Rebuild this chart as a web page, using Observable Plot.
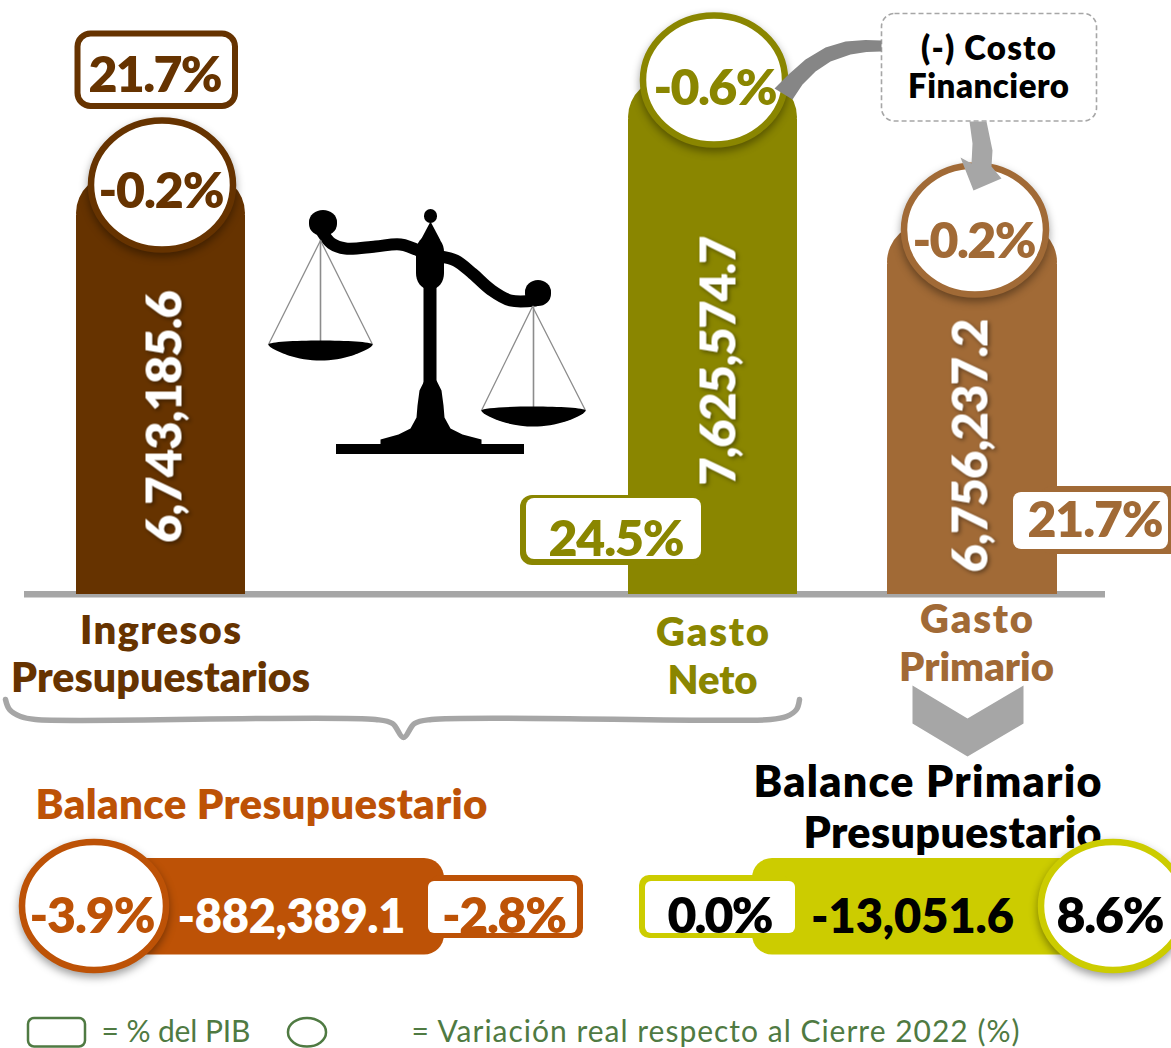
<!DOCTYPE html>
<html lang="es">
<head>
<meta charset="utf-8">
<title>Balance presupuestario</title>
<script src="https://cdn.jsdelivr.net/npm/d3@7"></script>
<script src="https://cdn.jsdelivr.net/npm/@observablehq/plot@0.6"></script>
<style>
  html, body { margin: 0; padding: 0; background: #fff; }
  svg { display: block; }
  svg text { font-family: Lato, "Open Sans", sans-serif; }
  [aria-label="badge"] { filter: drop-shadow(0 4px 4px rgba(0,0,0,.38)); }
  .value-shadow { filter: drop-shadow(-2px 2px 2px rgba(0,0,0,.4)); }
</style>
</head>
<body>
<div id="chart"></div>
<script>
// ---- Values ----
const categories = ["Ingresos Presupuestarios", "Gasto Neto", "Gasto Primario"];
const amounts = ["6,743,185.6", "7,625,574.7", "6,756,237.2"];
const pctPib = ["21.7%", "24.5%", "21.7%"];
const pctReal = ["-0.2%", "-0.6%", "-0.2%"];
const barHeights = [421, 517, 372];       // drawn heights, as in the picture (not proportional)

const balanceNames = ["Balance Presupuestario", "Balance Primario Presupuestario"];
const balanceAmounts = ["-882,389.1", "-13,051.6"];
const balancePib = ["-2.8%", "0.0%"];
const balanceReal = ["-3.9%", "8.6%"];

// ---- Colours ----
const brown = "#663300", olive = "#8a8600", tan = "#a16a36", rust = "#bd5206",
      lime = "#cccc00", gray = "#a6a6a6", darkGray = "#868686", green = "#4f7a42";

// ---- Layout ----
const W = 1171, H = 1048, base = 594;
const bars = [
  {x1: 76, x2: 245, fill: brown, cx: 162, cy: 185, ax: 181, ay: 416, aw: 253},
  {x1: 628, x2: 797, fill: olive, cx: 714, cy: 80, ax: 735, ay: 360, aw: 250},
  {x1: 887, x2: 1057, fill: tan, cx: 975, cy: 230, ax: 987, ay: 445, aw: 254}
].map((d, i) => ({...d, top: base - barHeights[i], amount: amounts[i], real: pctReal[i]}));

const box = (d, o = {}) => Plot.rect([d], {x1: "x1", x2: "x2", y1: "y1", y2: "y2", fill: d.fill, stroke: d.stroke ?? "none", strokeWidth: d.sw ?? 0, rx: d.rx ?? 0, ry: d.ry ?? d.rx ?? 0, ...o});
const ellipse = (cx, cy, rx, ry, color) => box({x1: cx - rx, x2: cx + rx, y1: cy - ry, y2: cy + ry, fill: "#fff", stroke: color, sw: 6.5, rx, ry}, {ariaLabel: () => "badge"});
const poly = (pts, fill, curve = "linear") => Plot.line(pts.map(([x, y]) => ({x, y})), {x: "x", y: "y", fill, stroke: "none", curve});
const stroke = (pts, color, sw, curve = "linear") => Plot.line(pts.map(([x, y]) => ({x, y})), {x: "x", y: "y", stroke: color, strokeWidth: sw, curve, strokeLinecap: "round"});

const fitted = [];
function label(text, x, y, size, color, w, o = {}) {
  const key = "t" + fitted.length;
  fitted.push({key, w, shadow: o.rotate != null});
  return Plot.text([{text, x, y}], {x: "x", y: "y", text: "text", fontSize: size, fontWeight: o.weight ?? 800, fill: color, textAnchor: o.anchor ?? "middle", lineAnchor: "bottom", rotate: o.rotate ?? 0, ariaLabel: () => key});
}

const marks = [
  // Axis line
  box({x1: 24, x2: 1105, y1: 591, y2: 597.5, fill: gray}),

  // Bars
  ...bars.flatMap(b => [
    box({x1: b.x1, x2: b.x2, y1: b.top, y2: b.top + 80, fill: b.fill, rx: 42}),
    box({x1: b.x1, x2: b.x2, y1: b.top + 42, y2: base, fill: b.fill})
  ]),

  // Balance scale
  box({x1: 336, x2: 524, y1: 444, y2: 454, fill: "#000"}),
  poly([[424,380],[436,380],[441,390],[443,405],[444,417],[450,428],[462,434],[481,439],[481,445],[380,445],[380,439],[398,434],[410,428],[416,417],[417,405],[419,390]], "#000"),
  box({x1: 423.5, x2: 436.5, y1: 280, y2: 392, fill: "#000"}),
  box({x1: 416, x2: 444, y1: 236, y2: 289, fill: "#000", rx: 12, ry: 16}),
  box({x1: 424, x2: 437, y1: 209, y2: 223, fill: "#000", rx: 6.5}),
  poly([[430,221],[440,240],[420,240]], "#000"),
  stroke([[322,232],[331,243],[345,248],[375,246],[400,244],[420,251]], "#000", 12, "catmull-rom"),
  box({x1: 309, x2: 337, y1: 210, y2: 236, fill: "#000", rx: 14, ry: 12}),
  stroke([[440,256],[455,260],[472,273],[490,289],[510,300],[535,300]], "#000", 12, "catmull-rom"),
  box({x1: 525, x2: 551, y1: 280, y2: 306, fill: "#000", rx: 13, ry: 12}),
  stroke([[320,240],[268,344],[372,344],[320,240]], "#8c8c8c", 1.3),
  stroke([[320,240],[320,344]], "#8c8c8c", 1.6),
  stroke([[532,306],[481,410],[585,410],[532,306]], "#8c8c8c", 1.3),
  stroke([[533,306],[533,410]], "#8c8c8c", 1.6),
  poly([[268,344],[372,344],[352,355],[320,360],[288,355]], "#000", "catmull-rom-closed"),
  poly([[481,410],[585,410],[565,421],[533,426],[501,421]], "#000", "catmull-rom-closed"),

  // Callout
  box({x1: 881.5, x2: 1096.5, y1: 13.5, y2: 121, fill: "#fff", stroke: gray, sw: 1.6, rx: 13}, {strokeDasharray: "5,3"}),

  // Percent-of-GDP boxes of the bars
  box({x1: 77.5, x2: 235, y1: 33.5, y2: 106, fill: "#fff", stroke: brown, sw: 6, rx: 13}),
  box({x1: 520, x2: 705, y1: 495, y2: 565, fill: olive, rx: 12}),
  box({x1: 526, x2: 701, y1: 498, y2: 559, fill: "#fff", rx: 8}),
  box({x1: 1040, x2: 1190, y1: 486, y2: 554, fill: tan, rx: 12}),
  box({x1: 1013, x2: 1168, y1: 492, y2: 549, fill: "#fff", rx: 8}),

  // Circles of the bars
  ...bars.map(b => ellipse(b.cx, b.cy, 71, 64.5, b.fill)),

  // Grey connector and arrow
  poly([[881,40],[865,39.5],[845,41],[825,47],[805,59],[788,74],[774,88],[792,99],[802,84],[815,71],[830,61],[850,54],[866,51.5],[881,51]], darkGray),
  poly([[969,121],[972,143],[971,163],[960,157],[973,190],[1001,178],[991,166],[992,150],[986,121]], gray),

  // Labels below the bars
  label("Ingresos", 160, 643, 40, brown, 161),
  label("Presupuestarios", 160, 691, 41, brown, 299),
  label("Gasto", 712, 645, 40, olive, 113),
  label("Neto", 712, 693, 40, olive, 90),
  label("Gasto", 976, 632, 40, tan, 113),
  label("Primario", 976, 680, 40, tan, 155),
  label("(-) Costo", 988, 59, 33, "#000", 135),
  label("Financiero", 988, 97, 33, "#000", 161),

  // Bar values
  ...bars.map((b, i) => label(b.amount, b.ax, b.ay, 49, "#fff", b.aw, {rotate: -90})),
  label(pctPib[0], 155, 91, 50, brown, 134),
  label(pctPib[1], 616, 555, 50, olive, 136),
  label(pctPib[2], 1095, 536, 50, tan, 136),
  label(pctReal[0], 161, 207, 50, brown, 126),
  label(pctReal[1], 715, 104, 50, olive, 124),
  label(pctReal[2], 974, 257, 50, tan, 124),

  // Brace and chevron
  stroke([[5,699],[9,709],[20,716],[35,719],[375,719],[392,723],[403,737],[414,723],[431,719],[770,719],[786,716],[796,709],[799,699]], gray, 5.5, "catmull-rom"),
  poly([[912,685],[967,718],[1023,685],[1023,723],[967,756],[912,723]], gray),

  // Balance presupuestario
  label(balanceNames[0], 35, 818, 42, rust, 452, {anchor: "start"}),
  box({x1: 100, x2: 444, y1: 858, y2: 954.5, fill: rust, rx: 20}),
  box({x1: 430, x2: 583, y1: 875, y2: 938, fill: rust, rx: 10}),
  box({x1: 428, x2: 577, y1: 881, y2: 933, fill: "#fff", rx: 6}),
  ellipse(94, 906, 72, 64, rust),
  label(balanceReal[0], 92, 932, 50, rust, 126),
  label(balanceAmounts[0], 291, 932, 47, "#fff", 228),
  label(balancePib[0], 504, 932, 50, rust, 125),

  // Balance primario
  label("Balance Primario", 1101, 796, 43, "#000", 348, {anchor: "end"}),
  label("Presupuestario", 1101, 847, 43, "#000", 298, {anchor: "end"}),
  box({x1: 752, x2: 1110, y1: 858, y2: 954.5, fill: lime, rx: 20}),
  box({x1: 639, x2: 790, y1: 875, y2: 938, fill: lime, rx: 10}),
  box({x1: 645, x2: 795, y1: 881, y2: 933, fill: "#fff", rx: 6}),
  ellipse(1113, 906, 72, 64, lime),
  label(balancePib[1], 720, 932, 50, "#000", 106),
  label(balanceAmounts[1], 912, 932, 47, "#000", 203),
  label(balanceReal[1], 1110, 932, 50, "#000", 108),

  // Legend
  box({x1: 28, x2: 85, y1: 1018, y2: 1046.5, fill: "none", stroke: green, sw: 2.5, rx: 6}),
  label("= % del PIB", 101, 1041, 30, green, 149, {anchor: "start", weight: 400}),
  box({x1: 288, x2: 326, y1: 1018, y2: 1046.5, fill: "none", stroke: green, sw: 2.5, rx: 19, ry: 14}),
  label("= Variación real respecto al Cierre 2022 (%)", 411, 1041, 30, green, 608, {anchor: "start", weight: 400})
];

const chart = Plot.plot({
  width: W, height: H, margin: 0,
  x: {domain: [0, W], range: [0, W], axis: null},
  y: {domain: [0, H], range: [0, H], axis: null},
  marks
});
chart.style.background = "#fff";
document.getElementById("chart").appendChild(chart);

// Fit each text to the width it has in the picture
fitted.forEach(({key, w, shadow}) => {
  d3.select(chart).selectAll(`text[aria-label="${key}"]`)
    .attr("textLength", w).attr("lengthAdjust", "spacing")
    .classed("value-shadow", shadow);
});
</script>
</body>
</html>
